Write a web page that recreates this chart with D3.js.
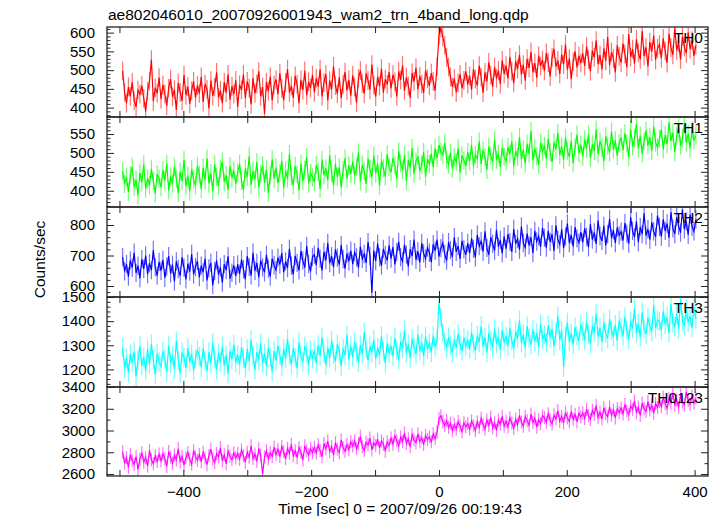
<!DOCTYPE html>
<html><head><meta charset="utf-8">
<script src="https://cdn.jsdelivr.net/npm/d3@7/dist/d3.min.js"></script>
<style>body{margin:0;background:#fff}svg{display:block}</style>
</head><body>
<script>
const title = "ae802046010_20070926001943_wam2_trn_4band_long.qdp";
const xTitle = "Time [sec] 0 = 2007/09/26 00:19:43";
const yTitle = "Counts/sec";
const t0 = -495, binSec = 3;

const th0 = [
498,441,412,455,430,468,419,402,447,436,459,425,390,444,471,528,417,453,438,480,
423,461,437,405,452,476,429,448,394,466,441,418,487,433,456,410,445,470,426,459,
438,482,415,463,449,398,472,431,455,494,427,446,412,468,440,489,421,457,436,473,
402,461,447,488,425,470,452,409,479,438,463,497,430,455,384,468,444,482,419,460,
475,436,492,451,420,467,503,440,458,426,485,462,411,474,447,498,433,469,452,487,
441,478,456,502,430,467,489,419,472,448,510,459,437,481,425,463,495,446,474,432,
486,455,413,478,499,464,437,491,472,448,515,460,429,483,457,504,440,476,462,495,
451,488,469,430,497,474,512,445,481,458,426,493,470,506,449,484,463,439,499,477,
458,492,470,445,510,592,612,588,566,534,508,482,455,478,441,466,489,452,473,497,
462,485,448,503,476,459,512,481,440,494,470,521,487,455,508,478,499,463,526,490,
512,478,535,497,466,524,503,541,488,515,472,530,506,549,494,519,480,538,511,527,
498,546,520,483,534,557,509,526,490,542,515,568,501,531,476,522,550,507,538,519,
545,511,563,528,497,552,534,579,516,540,502,558,525,589,513,548,531,494,566,537,
520,571,543,508,596,535,556,517,582,546,529,604,538,561,510,575,549,592,527,558,
568,532,585,551,519,597,560,541,612,553,574,528,590,562,545,601,556,579,538,566];
const th1 = [
452,418,436,397,441,463,410,429,388,447,422,470,405,433,415,458,426,392,444,431,
409,455,427,472,401,438,419,463,432,394,450,426,481,412,440,398,457,430,414,466,
443,405,461,428,486,419,447,399,470,436,412,458,477,423,441,402,465,434,453,418,
448,471,426,402,459,437,491,415,452,430,476,408,445,467,421,456,394,440,483,432,
461,420,446,479,407,453,432,497,438,414,466,443,401,472,425,455,489,419,447,436,
423,468,450,405,482,441,459,428,494,447,415,471,436,462,409,455,486,432,467,444,
478,440,462,501,425,469,451,418,485,457,436,493,446,472,414,480,459,437,496,463,
449,487,466,431,505,472,454,494,426,481,461,513,445,478,492,452,469,502,437,484,
471,498,463,512,486,521,503,494,527,482,469,501,458,489,476,512,448,493,480,465,
502,478,521,466,495,484,530,471,508,489,455,517,493,476,535,482,498,463,514,490,
478,516,497,531,465,505,489,542,483,509,472,524,498,558,481,512,491,469,527,503,
519,484,537,502,476,528,510,553,494,517,481,540,506,489,532,473,515,548,499,522,
490,536,511,549,487,523,505,562,497,531,514,478,544,519,501,557,509,533,492,526,
541,507,552,525,489,563,517,538,576,512,546,498,531,559,520,542,505,570,528,515,
537,562,509,548,523,581,531,554,502,545,567,519,539,576,527,551,512,560,534,546];
const th2 = [
695,648,672,631,684,660,709,643,667,625,688,656,700,639,675,652,718,661,634,679,
650,686,627,664,698,641,670,615,681,656,633,694,660,622,673,647,705,638,662,682,
629,667,645,690,618,658,676,603,649,684,637,661,611,672,652,697,624,644,668,633,
671,640,687,655,622,698,662,635,709,650,676,628,684,661,645,702,657,631,690,668,
652,693,670,708,645,681,659,722,667,638,699,676,651,715,683,660,731,672,648,695,
703,668,725,690,651,712,684,741,675,698,662,720,693,670,734,688,657,706,681,716,
672,711,694,660,729,689,705,676,744,698,578,716,682,739,694,667,722,701,684,733,
690,728,671,712,745,695,680,736,703,664,721,698,752,686,714,677,741,707,690,726,
709,678,737,715,752,696,724,741,705,683,744,718,695,760,712,731,689,748,720,702,
741,708,756,722,694,768,731,747,713,779,725,702,760,738,716,784,729,751,707,763,
722,770,744,712,787,738,755,719,795,741,726,772,733,760,708,781,746,763,728,791,
758,726,781,745,770,715,799,752,737,786,724,762,805,741,768,730,793,756,742,777,
743,789,761,727,803,752,776,738,815,764,748,797,733,770,820,757,783,741,792,766,
778,749,806,772,739,825,781,760,812,744,793,770,838,765,786,752,809,779,761,831,
794,762,819,781,805,758,842,789,770,826,797,775,851,786,812,768,834,795,779,818];
const th3 = [
1290,1203,1247,1186,1262,1228,1274,1171,1239,1296,1215,1251,1194,1283,1222,1305,1240,1178,1266,1231,
1212,1276,1243,1188,1299,1226,1257,1201,1318,1238,1184,1270,1249,1207,1288,1230,1263,1196,1245,1281,
1254,1209,1287,1236,1193,1272,1225,1311,1247,1198,1268,1231,1295,1214,1259,1183,1276,1242,1303,1228,
1261,1218,1293,1246,1204,1284,1233,1322,1255,1197,1271,1240,1308,1226,1265,1213,1289,1251,1190,1277,
1236,1298,1259,1211,1285,1244,1327,1262,1220,1290,1249,1205,1313,1257,1231,1296,1270,1216,1281,1244,
1279,1226,1301,1255,1334,1268,1217,1290,1247,1319,1262,1232,1305,1276,1214,1287,1258,1342,1240,1296,
1251,1313,1272,1229,1301,1264,1355,1283,1238,1296,1270,1324,1245,1289,1259,1337,1276,1226,1308,1266,
1298,1254,1331,1279,1240,1316,1287,1362,1268,1305,1247,1326,1291,1263,1344,1276,1310,1255,1337,1283,
1308,1271,1340,1292,1322,1475,1415,1352,1318,1287,1334,1298,1268,1325,1289,1347,1303,1276,1331,1296,
1322,1284,1356,1305,1277,1341,1312,1380,1296,1333,1270,1350,1318,1289,1368,1307,1335,1281,1362,1314,
1336,1297,1371,1319,1285,1357,1328,1403,1310,1345,1290,1379,1331,1302,1366,1316,1350,1294,1388,1325,
1344,1309,1383,1331,1368,1296,1352,1421,1322,1360,1210,1337,1395,1315,1349,1303,1375,1340,1318,1386,
1358,1320,1399,1345,1307,1381,1352,1430,1336,1372,1314,1394,1349,1327,1408,1362,1335,1385,1318,1402,
1375,1338,1418,1362,1325,1399,1370,1452,1351,1391,1334,1437,1368,1346,1414,1380,1357,1466,1372,1405,
1398,1362,1441,1385,1416,1350,1472,1393,1377,1430,1367,1488,1402,1381,1449,1395,1420,1373,1458,1408];
const th0123 = [
2805,2698,2752,2661,2779,2724,2688,2761,2642,2737,2796,2709,2750,2672,2819,2731,2694,2768,2715,2783,
2722,2786,2741,2670,2807,2755,2698,2773,2729,2834,2712,2762,2681,2749,2798,2735,2690,2816,2758,2727,
2779,2713,2801,2750,2686,2771,2829,2740,2705,2788,2757,2841,2722,2776,2694,2810,2763,2731,2795,2748,
2790,2737,2822,2768,2709,2801,2754,2860,2743,2785,2716,2833,2772,2601,2756,2815,2738,2796,2761,2848,
2779,2826,2761,2853,2804,2740,2836,2789,2872,2768,2815,2751,2844,2798,2729,2859,2810,2776,2833,2795,
2847,2792,2868,2815,2760,2881,2832,2903,2806,2853,2774,2889,2828,2797,2914,2842,2810,2871,2823,2896,
2858,2905,2833,2880,2947,2851,2816,2892,2868,2930,2822,2887,2861,2921,2839,2904,2875,2810,2896,2863,
2931,2874,2952,2906,2860,2941,2897,2978,2882,2925,2853,2962,2913,2889,2970,2901,2936,2871,2955,2918,
2942,2896,2968,2924,2985,3110,3135,3082,3046,3091,3028,3067,2999,3054,3012,3083,3041,2990,3072,3035,
3064,3011,3089,3043,2998,3081,3029,3112,3056,3014,3097,3047,3123,3025,3070,3002,3095,3058,3131,3039,
3084,3036,3117,3069,3022,3103,3055,3140,3078,3040,3128,3091,3049,3151,3074,3112,3031,3099,3063,3136,
3119,3074,3155,3097,3061,3142,3108,3183,3086,3130,3069,3167,3115,3082,3174,3103,3149,3079,3160,3125,
3162,3111,3196,3138,3101,3185,3147,3230,3122,3170,3106,3209,3154,3127,3218,3141,3188,3116,3201,3165,
3207,3154,3241,3182,3148,3226,3195,3272,3163,3214,3139,3253,3201,3175,3266,3188,3233,3160,3249,3212,
3268,3219,3305,3247,3205,3291,3256,3342,3230,3279,3212,3326,3262,3236,3355,3274,3240,3318,3253,3296];

const bandNames = ["TH0","TH1","TH2","TH3","TH0123"];
const seriesList = [th0, th1, th2, th3, th0123];
const bandErrors = [25, 24, 30, 40, 60];
const colors = ["#ff0000","#00ff00","#0000ff","#00ffff","#ff00ff"];
const yDomains = [[375,615],[357,595],[564,859],[1127,1500],[2582,3400]];
const yMajorTicks = [[400,450,500,550,600],[400,450,500,550],[600,700,800],[1200,1300,1400,1500],[2600,2800,3000,3200,3400]];
const yMinorStep = [10,10,20,20,100];
const xDomain = [-519.5, 421];
const xTickValues = [-500,-400,-300,-200,-100,0,100,200,300,400];
const xLabelValues = [-400,-200,0,200,400];

const W = 718, H = 516;
const left = 107, right = 708;
const tops = [27,117,207,297,387], bottom = 476;
const FONT = "'Liberation Sans', Arial, Helvetica, sans-serif";

const svg = d3.select("body").append("svg").attr("width", W).attr("height", H)
  .style("font-family", FONT);

const x = d3.scaleLinear().domain(xDomain).range([left, right]);
const frameColor = "#222";

seriesList.forEach((vals, p) => {
  const y0 = tops[p], y1 = (p < 4 ? tops[p+1] : bottom);
  const y = d3.scaleLinear().domain(yDomains[p]).range([y1, y0]);
  const pts = vals.map((v, i) => ({t: t0 + i*binSec, v}));
  const clipId = "clip" + p;
  svg.append("clipPath").attr("id", clipId).append("rect")
    .attr("x", left).attr("y", y0).attr("width", right-left).attr("height", y1-y0);
  const g = svg.append("g").attr("clip-path", `url(#${clipId})`);
  const err = bandErrors[p];
  g.selectAll("line.err").data(pts).enter().append("line")
    .attr("x1", d => x(d.t)).attr("x2", d => x(d.t))
    .attr("y1", d => y(d.v - err)).attr("y2", d => y(d.v + err))
    .attr("stroke", colors[p]).attr("stroke-opacity", 0.55).attr("stroke-width", 1.2);
  g.append("path").datum(pts)
    .attr("d", d3.line().x(d => x(d.t)).y(d => y(d.v)))
    .attr("fill", "none").attr("stroke", colors[p]).attr("stroke-width", 1.15);

  const [dmin, dmax] = yDomains[p];
  const step = yMinorStep[p];
  const minor = d3.range(Math.ceil(dmin/step)*step, dmax+0.001, step)
    .filter(v => !yMajorTicks[p].includes(v));
  const styleAxis = sel => { sel.select(".domain").remove(); sel.selectAll("line").attr("stroke", frameColor); };
  svg.append("g").attr("transform", `translate(${left},0)`)
    .call(d3.axisRight(y).tickValues(yMajorTicks[p]).tickSize(7).tickFormat("")).call(styleAxis);
  svg.append("g").attr("transform", `translate(${left},0)`)
    .call(d3.axisRight(y).tickValues(minor).tickSize(3.5).tickFormat("")).call(styleAxis);
  svg.append("g").attr("transform", `translate(${right},0)`)
    .call(d3.axisLeft(y).tickValues(yMajorTicks[p]).tickSize(7).tickFormat("")).call(styleAxis);
  svg.append("g").attr("transform", `translate(${right},0)`)
    .call(d3.axisLeft(y).tickValues(minor).tickSize(3.5).tickFormat("")).call(styleAxis);
  const lab = svg.append("g").attr("transform", `translate(${left},0)`)
    .call(d3.axisLeft(y).tickValues(yMajorTicks[p]).tickSize(0).tickPadding(12).tickFormat(d3.format("d")));
  lab.select(".domain").remove();
  lab.selectAll("text").attr("fill", "#000").style("font-size", "15px").style("font-family", FONT);

  svg.append("g").attr("transform", `translate(0,${y0})`)
    .call(d3.axisBottom(x).tickValues(xTickValues).tickSize(6).tickFormat("")).call(styleAxis);
  svg.append("g").attr("transform", `translate(0,${y1})`)
    .call(d3.axisTop(x).tickValues(xTickValues).tickSize(6).tickFormat("")).call(styleAxis);

  svg.append("rect").attr("x", left).attr("y", y0).attr("width", right-left).attr("height", y1-y0)
    .attr("fill", "none").attr("stroke", frameColor).attr("stroke-width", 1.3);

  svg.append("text").attr("x", 703).attr("y", y0 + 16).attr("text-anchor", "end")
    .style("font-size", "15.5px").attr("fill", "#000").text(bandNames[p]);
});

const xl = svg.append("g").attr("transform", `translate(0,${bottom})`)
  .call(d3.axisBottom(x).tickValues(xLabelValues).tickSize(0).tickPadding(10));
xl.select(".domain").remove();
xl.selectAll("text").attr("fill", "#000").style("font-size", "15px").style("font-family", FONT);

svg.append("text").attr("x", 108).attr("y", 20).style("font-size", "15.5px").attr("fill", "#000").text(title);
svg.append("text").attr("x", 400).attr("y", 514).attr("text-anchor", "middle")
  .style("font-size", "15.5px").attr("fill", "#000").text(xTitle);
svg.append("text").attr("transform", "translate(45,259.5) rotate(-90)").attr("text-anchor", "middle")
  .style("font-size", "15.5px").attr("fill", "#000").text(yTitle);
</script>
</body></html>
